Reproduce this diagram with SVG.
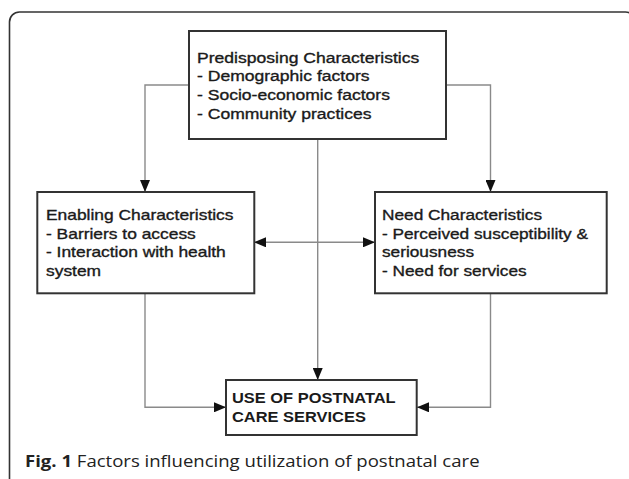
<svg xmlns="http://www.w3.org/2000/svg" width="629" height="479" viewBox="0 0 629 479">
<defs>
<marker id="ah" viewBox="0 0 12 10" refX="12" refY="5" markerWidth="12" markerHeight="10" markerUnits="userSpaceOnUse" orient="auto">
<path d="M0,0 L12,5 L0,10 Z" fill="#111"/>
</marker>
<marker id="ahs" viewBox="0 0 12 10" refX="12" refY="5" markerWidth="12" markerHeight="10" markerUnits="userSpaceOnUse" orient="auto-start-reverse">
<path d="M0,0 L12,5 L0,10 Z" fill="#111"/>
</marker>
</defs>
<style>
.frame{fill:none;stroke:#333;stroke-width:1.6}
.box{fill:#fff;stroke:#333;stroke-width:2}
.t{font-family:"Liberation Sans",Arial,sans-serif;font-size:15px;fill:#1a1a1a;stroke:#1a1a1a;stroke-width:0.35}
.tb{font-family:"Liberation Sans",Arial,sans-serif;font-size:15.5px;font-weight:bold;fill:#1a1a1a}
.c{fill:none;stroke:#8a8a8a;stroke-width:1.4}
.cap{font-family:"Open Sans","Noto Sans",sans-serif;font-size:16.5px;fill:#222}
</style>
<rect x="0" y="0" width="629" height="479" fill="#fff"/>
<rect class="frame" x="9.5" y="12" width="626" height="500" rx="10"/>

<g id="connectors">
<path class="c" d="M189,85 H145 V192" marker-end="url(#ah)"/>
<path class="c" d="M446,85 H490.5 V192" marker-end="url(#ah)"/>
<path class="c" d="M317.7,139 V380" marker-end="url(#ah)"/>
<path class="c" d="M254,242.3 H375" marker-start="url(#ahs)" marker-end="url(#ah)"/>
<path class="c" d="M145,293 V407.3 H226" marker-end="url(#ah)"/>
<path class="c" d="M490.5,293 V407.3 H417" marker-end="url(#ah)"/>
</g>

<g id="predisposing">
<rect class="box" x="189" y="31" width="257" height="108"/>
<g transform="translate(197 0) scale(1.17 1)">
<text class="t" x="0" y="62.7">Predisposing Characteristics</text>
<text class="t" x="0" y="81.5">- Demographic factors</text>
<text class="t" x="0" y="100.3">- Socio-economic factors</text>
<text class="t" x="0" y="119.1">- Community practices</text>
</g>
</g>

<g id="enabling">
<rect class="box" x="37.3" y="192" width="217" height="101.3"/>
<g transform="translate(46 0) scale(1.16 1)">
<text class="t" x="0" y="220">Enabling Characteristics</text>
<text class="t" x="0" y="238.7">- Barriers to access</text>
<text class="t" x="0" y="257.3">- Interaction with health</text>
<text class="t" x="0" y="276">system</text>
</g>
</g>

<g id="need">
<rect class="box" x="375" y="192" width="231.7" height="101.3"/>
<g transform="translate(382 0) scale(1.15 1)">
<text class="t" x="0" y="220">Need Characteristics</text>
<text class="t" x="0" y="238.7">- Perceived susceptibility &amp;</text>
<text class="t" x="0" y="257.3">seriousness</text>
<text class="t" x="0" y="276">- Need for services</text>
</g>
</g>

<g id="use">
<rect class="box" x="226" y="380" width="190.7" height="55"/>
<g transform="translate(232 0) scale(1.06 1)">
<text class="tb" x="0" y="403.3">USE OF POSTNATAL</text>
<text class="tb" x="0" y="421.7">CARE SERVICES</text>
</g>
</g>

<g transform="translate(25 0) scale(1.124 1)">
<text class="cap" x="0" y="467"><tspan font-weight="bold">Fig. 1</tspan> Factors influencing utilization of postnatal care</text>
</g>
</svg>
